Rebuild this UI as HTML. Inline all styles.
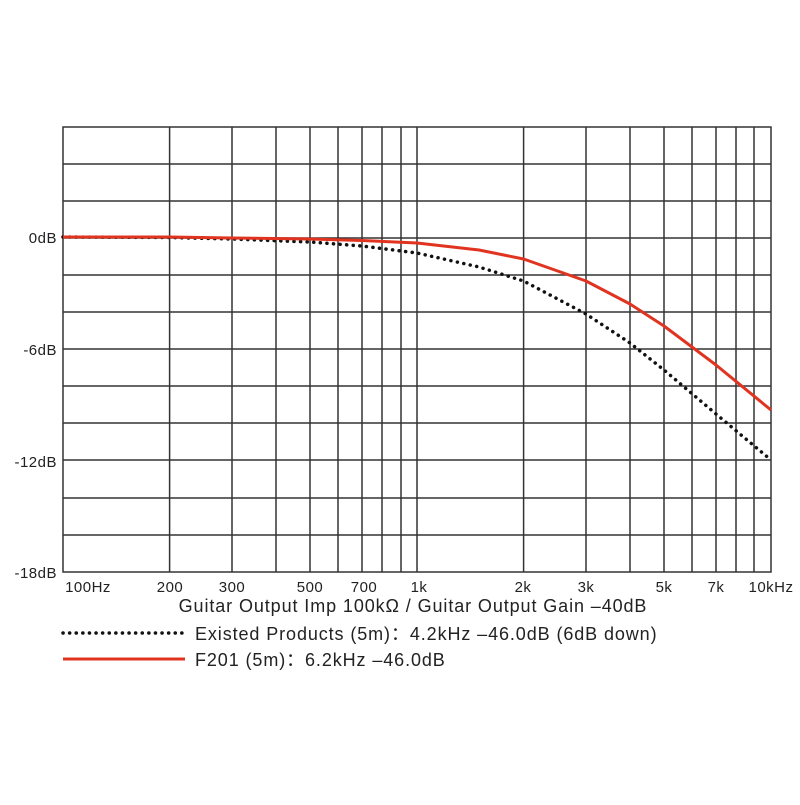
<!DOCTYPE html>
<html><head><style>body{margin:0;background:#fff}</style></head><body>
<svg width="800" height="800" xmlns="http://www.w3.org/2000/svg" font-family="Liberation Sans, sans-serif" fill="#222">
<g stroke="#333" stroke-width="1.5" fill="none">
<rect x="63" y="127" width="708" height="445"/>
<line x1="63" y1="164" x2="771" y2="164"/><line x1="63" y1="201" x2="771" y2="201"/><line x1="63" y1="238" x2="771" y2="238"/>
<line x1="63" y1="275" x2="771" y2="275"/><line x1="63" y1="312" x2="771" y2="312"/><line x1="63" y1="349" x2="771" y2="349"/>
<line x1="63" y1="386" x2="771" y2="386"/><line x1="63" y1="423" x2="771" y2="423"/><line x1="63" y1="460" x2="771" y2="460"/>
<line x1="63" y1="498" x2="771" y2="498"/><line x1="63" y1="535" x2="771" y2="535"/>
<line x1="169.6" y1="127" x2="169.6" y2="572"/><line x1="232" y1="127" x2="232" y2="572"/><line x1="276" y1="127" x2="276" y2="572"/>
<line x1="310" y1="127" x2="310" y2="572"/><line x1="338" y1="127" x2="338" y2="572"/><line x1="362" y1="127" x2="362" y2="572"/>
<line x1="382" y1="127" x2="382" y2="572"/><line x1="401" y1="127" x2="401" y2="572"/><line x1="417" y1="127" x2="417" y2="572"/>
<line x1="523.6" y1="127" x2="523.6" y2="572"/><line x1="586" y1="127" x2="586" y2="572"/><line x1="630" y1="127" x2="630" y2="572"/>
<line x1="664" y1="127" x2="664" y2="572"/><line x1="692" y1="127" x2="692" y2="572"/><line x1="716" y1="127" x2="716" y2="572"/>
<line x1="736" y1="127" x2="736" y2="572"/><line x1="754" y1="127" x2="754" y2="572"/>
</g>
<polyline fill="none" stroke="#111" stroke-width="3.5" stroke-dasharray="0.1,6.5" stroke-linecap="round" points="63,237 169.6,237.5 232,239 310,242 362,246 417,253 479,267 523.6,281 586,314 630,343 664,370 716,414 771,460"/>
<polyline fill="none" stroke="#e03420" stroke-width="3" stroke-linejoin="round" points="63,237 169.6,237 232,238 310,239 362,240.5 417,243 479,250 523.6,259 586,281 630,304 664,326 716,365 771,410"/>
<g font-size="15" text-anchor="end" letter-spacing="0.5">
<text x="57" y="243">0dB</text><text x="57" y="355">-6dB</text><text x="57" y="467">-12dB</text><text x="57" y="578">-18dB</text>
</g>
<g font-size="15" text-anchor="middle" letter-spacing="0.5">
<text x="88" y="592">100Hz</text><text x="170" y="592">200</text><text x="232" y="592">300</text><text x="310" y="592">500</text>
<text x="364" y="592">700</text><text x="419" y="592">1k</text><text x="523" y="592">2k</text><text x="586" y="592">3k</text>
<text x="664" y="592">5k</text><text x="716" y="592">7k</text><text x="771" y="592">10kHz</text>
</g>
<g font-size="18" letter-spacing="0.9">
<text x="413" y="612" text-anchor="middle">Guitar Output Imp 100kΩ / Guitar Output Gain –40dB</text>
<text x="195" y="640">Existed Products (5m)：4.2kHz –46.0dB (6dB down)</text>
<text x="195" y="666">F201 (5m)：6.2kHz –46.0dB</text>
</g>
<line x1="63" y1="633" x2="185" y2="633" stroke="#111" stroke-width="3.5" stroke-dasharray="0.1,6.5" stroke-linecap="round"/>
<line x1="63" y1="659" x2="185" y2="659" stroke="#e03420" stroke-width="3"/>
</svg>
</body></html>
